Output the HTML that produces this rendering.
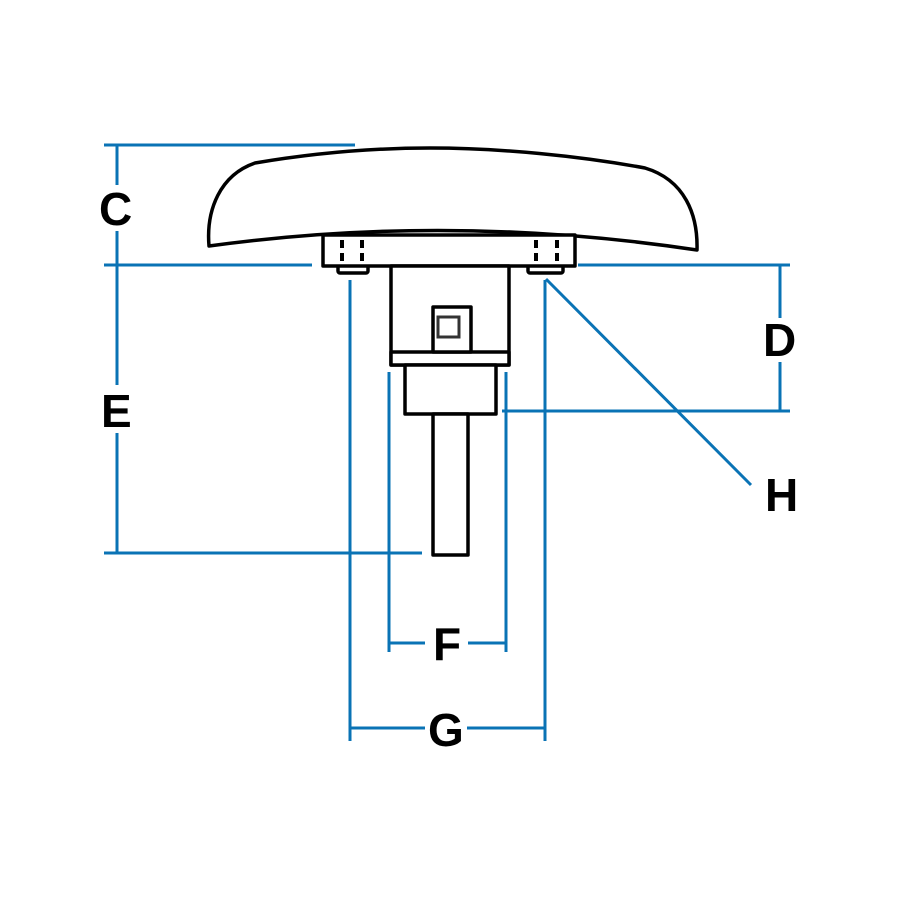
<!DOCTYPE html>
<html><head><meta charset="utf-8"><style>
html,body{margin:0;padding:0;background:#fff;}
svg{display:block;}
text{font-family:"Liberation Sans",Arial,sans-serif;font-weight:bold;font-size:46px;fill:#000;}
</style></head><body>
<svg width="900" height="900" viewBox="0 0 900 900">
<g fill="none" stroke="#0a73b5" stroke-width="3">
<line x1="104" y1="145" x2="355" y2="145"/>
<line x1="117" y1="145" x2="117" y2="185"/>
<line x1="117" y1="231" x2="117" y2="385"/>
<line x1="117" y1="433" x2="117" y2="553"/>
<line x1="104" y1="265" x2="312" y2="265"/>
<line x1="104" y1="553" x2="422" y2="553"/>
<line x1="578" y1="265" x2="790" y2="265"/>
<line x1="502" y1="411" x2="790" y2="411"/>
<line x1="780" y1="265" x2="780" y2="318"/>
<line x1="780" y1="362" x2="780" y2="411"/>
<line x1="546" y1="279" x2="751" y2="485"/>
<line x1="389" y1="372" x2="389" y2="652"/>
<line x1="506" y1="372" x2="506" y2="652"/>
<line x1="389" y1="643" x2="425" y2="643"/>
<line x1="468" y1="643" x2="506" y2="643"/>
<line x1="350" y1="280" x2="350" y2="741"/>
<line x1="545" y1="280" x2="545" y2="741"/>
<line x1="350" y1="728" x2="425" y2="728"/>
<line x1="467" y1="728" x2="545" y2="728"/>
</g>
<g fill="#fff" stroke="#000" stroke-width="3.5" stroke-linejoin="round">
<path d="M209,246 C206,210 220,175 255,163 C320,152 380,148 430,148 C500,148 580,156 645,168 C685,180 698,215 697,250 Q450,213 209,246 Z"/>
<rect x="338" y="264" width="30" height="9" rx="2"/>
<rect x="528" y="264" width="35" height="9" rx="2"/>
<rect x="323" y="235" width="252" height="31"/>
<rect x="391" y="266" width="118" height="99"/>
<rect x="391" y="352" width="118" height="13"/>
<rect x="433" y="307" width="38" height="45"/>
<rect x="405" y="365" width="91" height="49"/>
<rect x="433" y="414" width="35" height="141"/>
</g>
<rect x="438" y="317" width="21" height="20" fill="none" stroke="#333" stroke-width="3"/>
<g stroke="#000" stroke-width="4" stroke-dasharray="8,5">
<line x1="342" y1="240" x2="342" y2="262"/>
<line x1="362" y1="240" x2="362" y2="262"/>
<line x1="536" y1="240" x2="536" y2="262"/>
<line x1="557" y1="240" x2="557" y2="262"/>
</g>
<text x="99" y="225">C</text>
<text x="101" y="427">E</text>
<text x="763" y="356">D</text>
<text x="765" y="511">H</text>
<text x="433" y="660">F</text>
<text x="428" y="746">G</text>
</svg>
</body></html>
